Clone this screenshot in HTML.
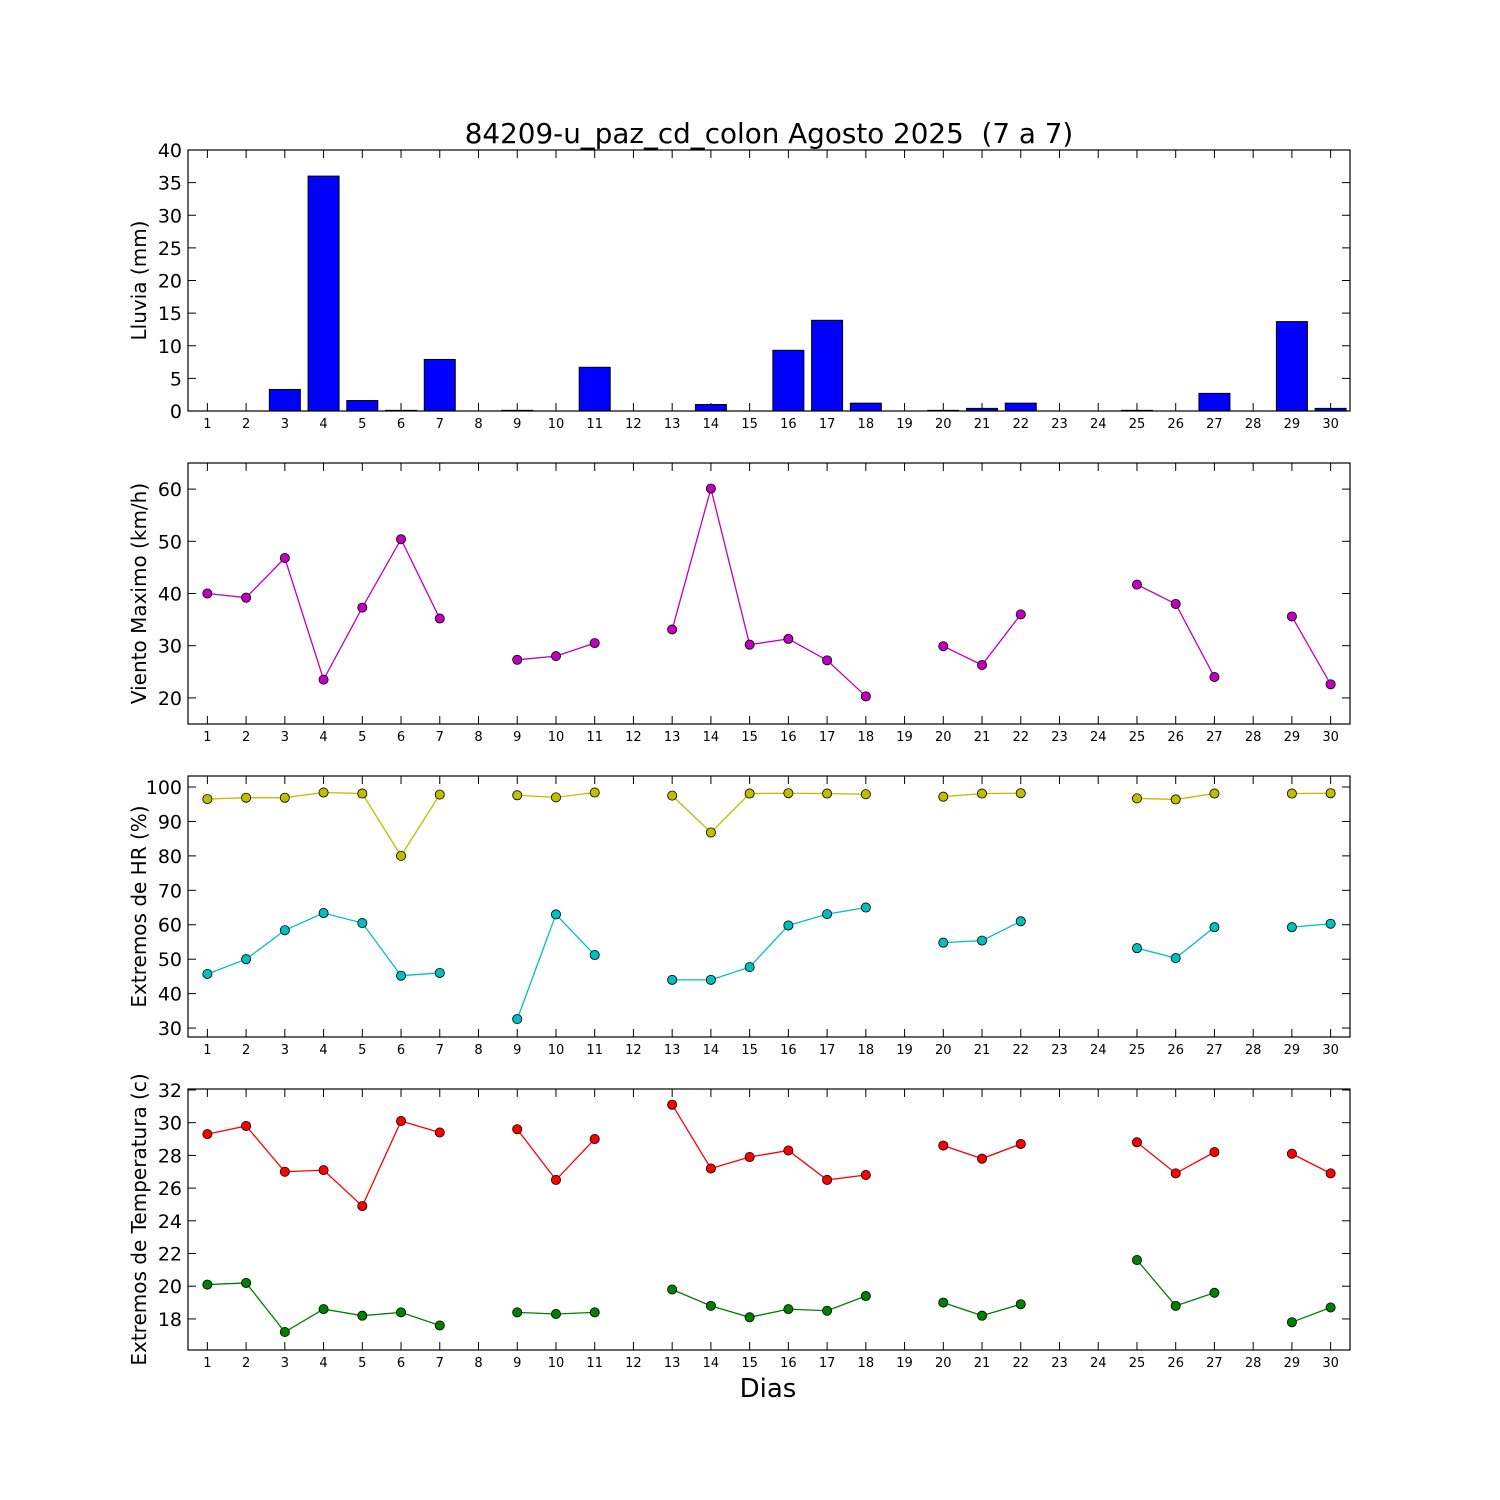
<!DOCTYPE html>
<html><head><meta charset="utf-8"><style>
html,body{margin:0;padding:0;background:#fff;}
svg{display:block;font-family:"DejaVu Sans","Liberation Sans",sans-serif;}
</style></head><body>
<svg id="chart" width="1500" height="1500" viewBox="0 0 1500 1500" xmlns="http://www.w3.org/2000/svg">
<rect width="1500" height="1500" fill="#fff"/>
<text x="769" y="143" font-size="27.8" text-anchor="middle" style="white-space:pre">84209-u_paz_cd_colon Agosto 2025  (7 a 7)</text>
<text x="768" y="1397" font-size="26" text-anchor="middle">Dias</text>
</svg>
<script>
const days = Array.from({length:30},(_,i)=>i+1);
const rain = [0,0,3.3,36,1.6,0.1,7.9,0,0.1,0,6.7,0,0,1,0,9.3,13.9,1.2,0,0.1,0.4,1.2,0,0,0.1,0,2.7,0,13.7,0.4];
const wind = [40,39.2,46.8,23.5,37.3,50.4,35.2,null,27.3,28,30.5,null,33.1,60.1,30.2,31.3,27.2,20.3,null,29.9,26.3,36,null,null,41.7,38,24,null,35.6,22.6];
const hrMax = [96.5,96.9,96.9,98.4,98.1,80,97.8,null,97.6,97,98.4,null,97.5,86.8,98.1,98.2,98.1,97.9,null,97.2,98.1,98.2,null,null,96.7,96.4,98.1,null,98.1,98.2];
const hrMin = [45.7,50,58.4,63.4,60.5,45.2,46,null,32.6,63,51.2,null,44,44,47.7,59.8,63.1,65,null,54.8,55.4,61,null,null,53.2,50.3,59.3,null,59.3,60.3];
const tMax = [29.3,29.8,27,27.1,24.9,30.1,29.4,null,29.6,26.5,29,null,31.1,27.2,27.9,28.3,26.5,26.8,null,28.6,27.8,28.7,null,null,28.8,26.9,28.2,null,28.1,26.9];
const tMin = [20.1,20.2,17.2,18.6,18.2,18.4,17.6,null,18.4,18.3,18.4,null,19.8,18.8,18.1,18.6,18.5,19.4,null,19,18.2,18.9,null,null,21.6,18.8,19.6,null,17.8,18.7];
const rainTicks = [0,5,10,15,20,25,30,35,40];
const windTicks = [20,30,40,50,60];
const hrTicks = [30,40,50,60,70,80,90,100];
const tTicks = [18,20,22,24,26,28,30,32];

const svg = document.getElementById('chart');
const NS = 'http://www.w3.org/2000/svg';
const L=188,R=1350;
const xs = d => L + (d-0.5)/30*(R-L);
function mk(tag, attrs){const e=document.createElementNS(NS,tag);for(const k in attrs)e.setAttribute(k,attrs[k]);svg.appendChild(e);return e;}

function panel(name, top, bot, ymin, ymax, ticks, label){
  const ys = v => bot - (v-ymin)/(ymax-ymin)*(bot-top);
  const g = {ys};
  ticks.forEach(t=>{
    const y=ys(t);
    const a=mk('line',{x1:L,x2:L+8,y1:y,y2:y,stroke:'#000','stroke-width':1});
    
    
    const b=mk('line',{x1:R-8,x2:R,y1:y,y2:y,stroke:'#000','stroke-width':1});
    
    
    const tx=mk('text',{x:L-6,y:y+7,'font-size':19,'text-anchor':'end'});
    tx.textContent=t;
    
    
  });
  days.forEach(d=>{
    const x=xs(d);
    const a=mk('line',{x1:x,x2:x,y1:bot,y2:bot-8,stroke:'#000','stroke-width':1});
    
    
    const b=mk('line',{x1:x,x2:x,y1:top,y2:top+8,stroke:'#000','stroke-width':1});
    
    
    const tx=mk('text',{x:x,y:bot+17,'font-size':13,'text-anchor':'middle'});
    tx.textContent=d;
    
    
  });
  const cy=(top+bot)/2;
  const yl=mk('text',{x:0,y:0,'font-size':20,'text-anchor':'middle',transform:`translate(146,${cy}) rotate(-90)`});
  yl.textContent=label;
  
  
  g.frame=()=>{const f=mk('rect',{x:L,y:top,width:R-L,height:bot-top,fill:'none',stroke:'#000','stroke-width':1.2});
    
    };
  return g;
}
function series(name, g, vals, color){
  let seg=[];
  const segs=[];
  vals.forEach((v,i)=>{ if(v==null){if(seg.length)segs.push(seg);seg=[];} else seg.push([xs(days[i]),g.ys(v)]); });
  if(seg.length)segs.push(seg);
  segs.forEach(s=>{
    if(s.length>1){const p=mk('polyline',{points:s.map(q=>q.join(',')).join(' '),fill:'none',stroke:color,'stroke-width':1.3});
      
      }
  });
  vals.forEach((v,i)=>{ if(v==null)return;
    const c=mk('circle',{cx:xs(days[i]),cy:g.ys(v),r:4.6,fill:color,stroke:'#000','stroke-width':0.8});
    
    
  });
}

const p1=panel('rain',150,411,0,40,rainTicks,'Lluvia (mm)');
const bw=(R-L)/30*0.8;
rain.forEach((v,i)=>{
  const y=p1.ys(v);
  const b=mk('rect',{x:xs(days[i])-bw/2,y:y,width:bw,height:Math.max(p1.ys(0)-y,0),fill:'#0000ff',stroke:'#000','stroke-width':1});
  
  
});
p1.frame();

const p2=panel('wind',463,724,15,65,windTicks,'Viento Maximo (km/h)');
series('wind',p2,wind,'#bf00bf'); p2.frame();

const p3=panel('humidity',776,1037,27.4,103.2,hrTicks,'Extremos de HR (%)');
series('humidity-max',p3,hrMax,'#bfbf00');
series('humidity-min',p3,hrMin,'#00bfbf'); p3.frame();

const p4=panel('temperature',1089,1350,16.1,32.06,tTicks,'Extremos de Temperatura (c)');
series('temp-max',p4,tMax,'#ff0000');
series('temp-min',p4,tMin,'#008000'); p4.frame();
</script>
</body></html>
